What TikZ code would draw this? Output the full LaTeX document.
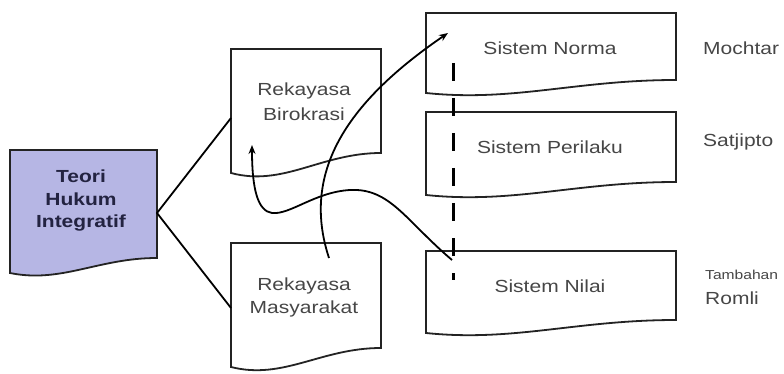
\documentclass[tikz,border=0pt]{standalone}
\usepackage{fontspec}
\setmainfont[FakeStretch=1.2]{Liberation Sans}
\usetikzlibrary{arrows.meta}
\definecolor{boxfill}{RGB}{182,182,228}
\definecolor{txtgray}{RGB}{70,70,70}
\definecolor{navy}{RGB}{35,35,65}
\definecolor{edge}{RGB}{35,35,35}
\tikzset{
  docbox/.style={draw=edge, line width=1.8pt, line join=miter},
  lbl/.style={text=txtgray, font=\fontsize{17.5}{23}\selectfont, align=center, inner sep=0pt},
  side/.style={text=txtgray, font=\fontsize{17.5}{23}\selectfont, anchor=west, inner sep=0pt},
  conn/.style={draw=black, line width=1.8pt},
  arr/.style={conn, -{Stealth[length=9pt,width=7pt]}},
  guide/.style={draw=black, line width=3pt, dash pattern=on 18pt off 17pt}
}
% #1 left, #2 top, #3 right, #4 right-bottom, #5 left-bottom, #6 options
\newcommand\docpath[6]{%
  \pgfmathsetmacro\dw{#3-#1}%
  \pgfmathsetmacro\dd{#5-#4}%
  \path[#6] (#1,#5) -- (#1,#2) -- (#3,#2) -- (#3,#4)
    .. controls ({#1+0.6*\dw},#4) and ({#1+0.35*\dw},{#5+0.7*\dd}) .. (#1,#5) -- cycle;}
\begin{document}
\begin{tikzpicture}[x=1pt,y=-1pt]
\useasboundingbox (0,0) rectangle (784,374);
% boxes
\docpath{10}{150}{157}{258}{273}{docbox, fill=boxfill}
\docpath{231}{49}{381}{153}{173}{docbox, fill=white}
\docpath{231}{243}{381}{348}{367}{docbox, fill=white}
\docpath{426}{13}{676}{80}{93}{docbox, fill=white}
\docpath{426}{112}{676}{182}{195}{docbox, fill=white}
\docpath{426}{251}{676}{320}{333}{docbox, fill=white}
% texts
\node[lbl, text=navy, font=\fontsize{17.5}{22.5}\selectfont\bfseries] (teori) at (81,201) {Teori\\Hukum\\Integratif};
\node[lbl, font=\fontsize{17.5}{25}\selectfont] (biro) at (304,102) {Rekayasa\\Birokrasi};
\node[lbl] (masy) at (304,297) {Rekayasa\\Masyarakat};
\node[lbl] (norma) at (550,48) {Sistem Norma};
\node[lbl] (perilaku) at (550,147) {Sistem Perilaku};
\node[lbl] (nilai) at (550,286) {Sistem Nilai};
\node[side] (mochtar) at (703,48) {Mochtar};
\node[side] (satjipto) at (703,142) {Satjipto};
\node[side, font=\fontsize{13}{15}\selectfont] (tambahan) at (705,275) {Tambahan};
\node[side] (romli) at (705,298) {Romli};
% connector anchors
\coordinate (tR) at (157,213);
\coordinate (bL) at (231,118);
\coordinate (mL) at (231,308);
\coordinate (mStart) at (329,258);
\coordinate (nHead) at (448,33);
\coordinate (vStart) at (452,260);
\coordinate (hump) at (350,190);
\coordinate (loop) at (272,213);
\coordinate (bHead) at (252,145);
\coordinate (dTop) at (453,63);
\coordinate (dBot) at (453,280);
% lines
\draw[conn] (bL) -- (tR) -- (mL);
\draw[guide] (dTop) -- (dBot);
\draw[arr] (mStart) .. controls (300,170) and (350,100) .. (nHead);
\draw[arr] (vStart) .. controls (405,220) and (390,188) .. (hump)
  .. controls (315,192) and (290,215) .. (loop)
  .. controls (258,211) and (252,190) .. (bHead);
\end{tikzpicture}
\end{document}
